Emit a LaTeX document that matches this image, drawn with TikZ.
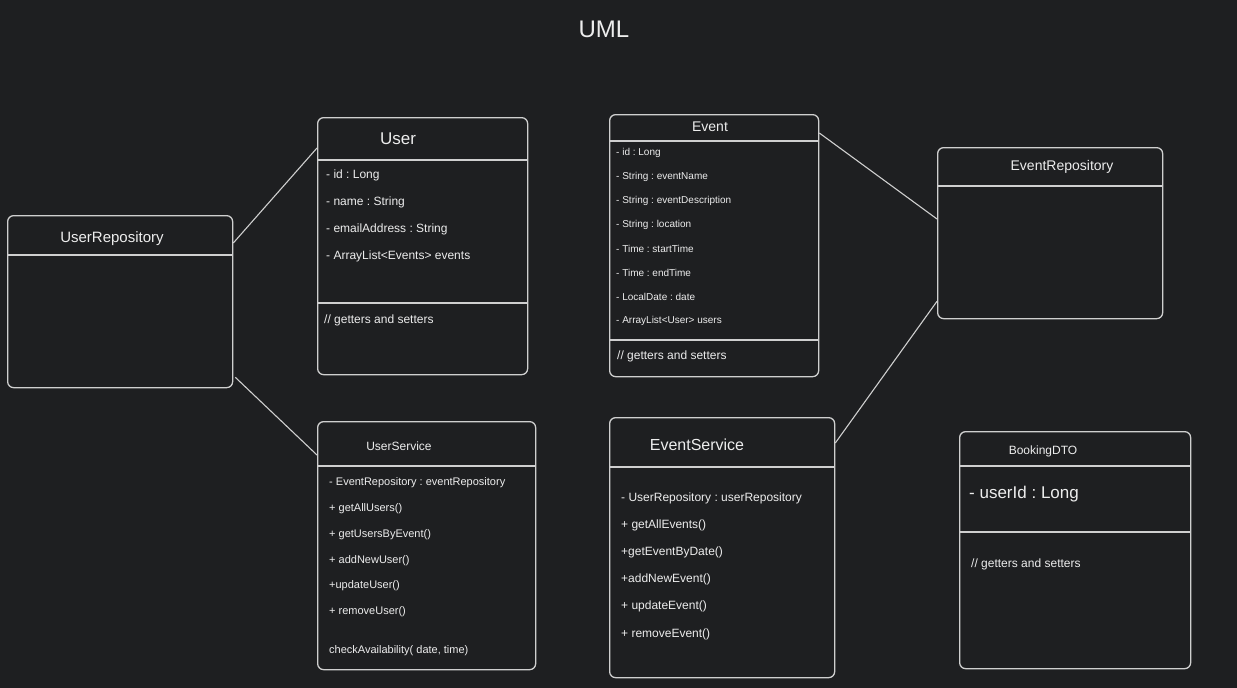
\documentclass[tikz,border=0pt]{standalone}
\usepackage{fontspec}
\setmainfont{Liberation Sans}
\usetikzlibrary{calc}
\definecolor{bg}{HTML}{1E1F21}
\definecolor{ln}{HTML}{CFCFCF}
\definecolor{tx}{HTML}{EDEDED}
\newcommand{\fs}[1]{\fontsize{#1}{#1}\selectfont}
\frenchspacing
\tikzset{
  box/.style={draw=ln, line width=1.3pt, rounded corners=6pt, anchor=north west, inner sep=0pt},
  sep/.style={draw=ln, line width=1.3pt},
  conn/.style={draw=ln, line width=1.1pt},
  lbl/.style={text=tx, anchor=west, inner sep=0pt, yshift=-1pt},
  ttl/.style={text=tx, anchor=center, inner sep=0pt, yshift=-1pt},
}
\begin{document}
\begin{tikzpicture}[x=1pt,y=-1pt]
\fill[bg] (0,0) rectangle (1237,688);
\useasboundingbox (0,0) rectangle (1237,688);

\node[ttl, font=\fs{24}] (uml) at (604,28) {UML};

% UserRepository
\node[box, minimum width=225pt, minimum height=172pt] (urepo) at (7,215) {};
\draw[sep] ([yshift=-40pt]urepo.north west) -- ([yshift=-40pt]urepo.north east);
\node[ttl, font=\fs{15}] (urepot) at (112,238) {UserRepository};

% User
\node[box, minimum width=210pt, minimum height=257pt] (user) at (317,117) {};
\draw[sep] ([yshift=-43pt]user.north west) -- ([yshift=-43pt]user.north east);
\draw[sep] ([yshift=-186pt]user.north west) -- ([yshift=-186pt]user.north east);
\node[ttl, font=\fs{17}] (usert) at (398,138) {User};
\begin{scope}[every node/.style={lbl, font=\fs{12}}]
\node (u1) at (326,174) {- id : Long};
\node (u2) at (326,201) {- name : String};
\node (u3) at (326,228) {- emailAddress : String};
\node (u4) at (326,255) {- ArrayList<Events> events};
\node (u5) at (324,319) {// getters and setters};
\end{scope}

% Event
\node[box, minimum width=209pt, minimum height=262pt] (event) at (609,114) {};
\draw[sep] ([yshift=-27pt]event.north west) -- ([yshift=-27pt]event.north east);
\draw[sep] ([yshift=-226pt]event.north west) -- ([yshift=-226pt]event.north east);
\node[ttl, font=\fs{14}] (eventt) at (710,126) {Event};
\begin{scope}[every node/.style={lbl, font=\fs{10}}]
\node (e1) at (616,152) {- id : Long};
\node (e2) at (616,176) {- String : eventName};
\node (e3) at (616,200) {- String : eventDescription};
\node (e4) at (616,224) {- String : location};
\node (e5) at (616,248) {- Time : startTime};
\node (e6) at (616,272) {- Time : endTime};
\node (e7) at (616,296) {- LocalDate : date};
\node (e8) at (616,320) {- ArrayList<User> users};
\end{scope}
\node[lbl, font=\fs{12}] (e9) at (617,355) {// getters and setters};

% EventRepository
\node[box, minimum width=225pt, minimum height=171pt] (erepo) at (937,147) {};
\draw[sep] ([yshift=-39pt]erepo.north west) -- ([yshift=-39pt]erepo.north east);
\node[ttl, font=\fs{14}] (erepot) at (1062,166) {EventRepository};

% UserService
\node[box, minimum width=218pt, minimum height=248pt] (usvc) at (317,421) {};
\draw[sep] ([yshift=-45pt]usvc.north west) -- ([yshift=-45pt]usvc.north east);
\node[ttl, font=\fs{12}] (usvct) at (399,445) {UserService};
\begin{scope}[every node/.style={lbl, font=\fs{11}}]
\node (s1) at (329,482) {- EventRepository : eventRepository};
\node (s2) at (329,508) {+ getAllUsers()};
\node (s3) at (329,534) {+ getUsersByEvent()};
\node (s4) at (329,560) {+ addNewUser()};
\node (s5) at (329,585) {+updateUser()};
\node (s6) at (329,611) {+ removeUser()};
\node (s7) at (329,650) {checkAvailability( date, time)};
\end{scope}

% EventService
\node[box, minimum width=225pt, minimum height=260pt] (esvc) at (609,417) {};
\draw[sep] ([yshift=-50pt]esvc.north west) -- ([yshift=-50pt]esvc.north east);
\node[ttl, font=\fs{16}] (esvct) at (697,444) {EventService};
\begin{scope}[every node/.style={lbl, font=\fs{12}}]
\node (v1) at (621,497) {- UserRepository : userRepository};
\node (v2) at (621,524) {+ getAllEvents()};
\node (v3) at (621,551) {+getEventByDate()};
\node (v4) at (621,578) {+addNewEvent()};
\node (v5) at (621,605) {+ updateEvent()};
\node (v6) at (621,633) {+ removeEvent()};
\end{scope}

% BookingDTO
\node[box, minimum width=231pt, minimum height=237pt] (dto) at (959,431) {};
\draw[sep] ([yshift=-35pt]dto.north west) -- ([yshift=-35pt]dto.north east);
\draw[sep] ([yshift=-101pt]dto.north west) -- ([yshift=-101pt]dto.north east);
\node[ttl, font=\fs{12}] (dtot) at (1043,450) {BookingDTO};
\node[lbl, font=\fs{17}] (d1) at (969,493) {- userId : Long};
\node[lbl, font=\fs{12}] (d2) at (971,563) {// getters and setters};

% connectors
\draw[conn] ([yshift=-28pt]urepo.north east) -- ([yshift=-31pt]user.north west);
\draw[conn] ([yshift=11pt,xshift=2pt]urepo.south east) -- ([yshift=-34pt]usvc.north west);
\draw[conn] ([yshift=-19pt]event.north east) -- ([yshift=-72pt]erepo.north west);
\draw[conn] ([yshift=-26pt]esvc.north east) -- ([yshift=18pt]erepo.south west);
\end{tikzpicture}
\end{document}
